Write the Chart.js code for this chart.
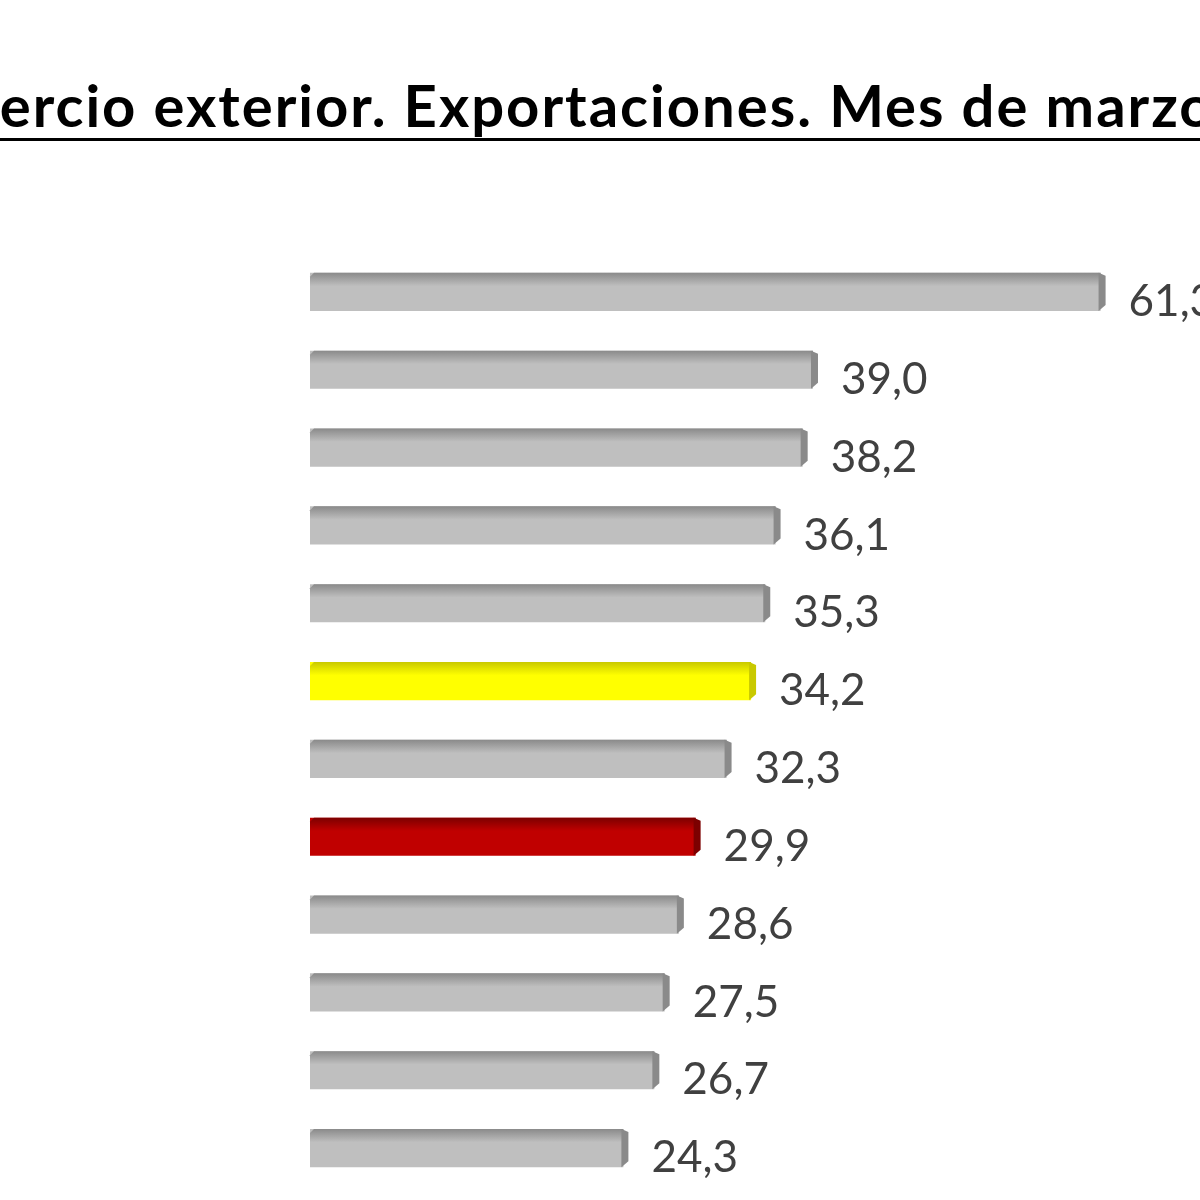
<!DOCTYPE html>
<html>
<head>
<meta charset="utf-8">
<script src="https://cdn.jsdelivr.net/npm/chart.js@4.4.1/dist/chart.umd.min.js"></script>
<style>
  html, body { margin: 0; padding: 0; background: #fff; width: 1200px; height: 1200px; overflow: hidden; }
  #wrap { position: relative; width: 1200px; height: 1200px; overflow: hidden; }
  #title {
    position: absolute; left: 0; top: 70px; white-space: nowrap;
    font-family: Lato, sans-serif; font-weight: bold; font-size: 58px; letter-spacing: 2px; color: #000;
  }
  #rule { position: absolute; left: 0; top: 138px; width: 1200px; height: 0; border-bottom: 3px solid #000; }
  canvas { position: absolute; left: 0; top: 0; }
</style>
</head>
<body>
<div id="wrap">
  <div id="title"><span id="cut">Com</span>ercio exterior. Exportaciones. Mes de marzo</div>
  <div id="rule"></div>
  <canvas id="exportChart" width="1200" height="1200"></canvas>
</div>
<script>
// values, top to bottom
const categorias = ['P1', 'P2', 'P3', 'P4', 'P5', 'P6', 'P7', 'P8', 'P9', 'P10', 'P11', 'P12'];
const valores = [61.3, 39.0, 38.2, 36.1, 35.3, 34.2, 32.3, 29.9, 28.6, 27.5, 26.7, 24.3];
const colores = ['#bfbfbf', '#bfbfbf', '#bfbfbf', '#bfbfbf', '#bfbfbf', '#ffff00',
                 '#bfbfbf', '#c00000', '#bfbfbf', '#bfbfbf', '#bfbfbf', '#bfbfbf'];
const sombras = { '#bfbfbf': '#8a8a8a', '#ffff00': '#c9c900', '#c00000': '#7c0000' };

const cut = document.getElementById('cut');
document.getElementById('title').style.marginLeft = -cut.offsetWidth + 'px';

// fake 3D look: darker top edge and darker right cap on each bar
const bevel = {
    id: 'bevel',
    afterDatasetsDraw(chart) {
        const ctx = chart.ctx;
        chart.getDatasetMeta(0).data.forEach((bar, i) => {
            const top = bar.y - bar.height / 2;
            const h = bar.height;
            const dark = sombras[colores[i]];
            ctx.save();
            let g = ctx.createLinearGradient(0, top, 0, top + h * 0.35);
            g.addColorStop(0, dark);
            g.addColorStop(1, colores[i]);
            ctx.fillStyle = g;
            ctx.beginPath();
            ctx.moveTo(bar.base + 4, top);
            ctx.lineTo(bar.x, top);
            ctx.lineTo(bar.x, top + h * 0.35);
            ctx.lineTo(bar.base, top + h * 0.35);
            ctx.lineTo(bar.base, top + 4);
            ctx.closePath();
            ctx.fill();
            ctx.fillStyle = dark;
            ctx.beginPath();
            ctx.moveTo(bar.x - 2, top);
            ctx.lineTo(bar.x + 5, top + 3);
            ctx.lineTo(bar.x + 5, top + h - 6);
            ctx.lineTo(bar.x - 2, top + h);
            ctx.closePath();
            ctx.fill();
            ctx.restore();
        });
    }
};

const etiquetas = {
    id: 'etiquetas',
    afterDatasetsDraw(chart) {
        const ctx = chart.ctx;
        ctx.save();
        ctx.font = '44px Lato, sans-serif';
        ctx.fillStyle = '#404040';
        ctx.textBaseline = 'middle';
        ctx.textAlign = 'left';
        chart.getDatasetMeta(0).data.forEach((bar, i) => {
            ctx.fillText(valores[i].toFixed(1).replace('.', ','), bar.x + 28, bar.y + 10);
        });
        ctx.restore();
    }
};

new Chart(document.getElementById('exportChart').getContext('2d'), {
    type: 'bar',
    data: {
        labels: categorias,
        datasets: [{
            data: valores,
            backgroundColor: colores,
            borderWidth: 0,
            barPercentage: 0.49,
            categoryPercentage: 1
        }]
    },
    options: {
        indexAxis: 'y',
        responsive: false,
        animation: false,
        devicePixelRatio: 1,
        layout: { padding: { left: 310, right: 13, top: 253, bottom: 13 } },
        scales: {
            x: { display: false, min: 0, max: 68 },
            y: { display: false }
        },
        plugins: { legend: { display: false }, tooltip: { enabled: false } }
    },
    plugins: [bevel, etiquetas]
});
</script>
</body>
</html>
